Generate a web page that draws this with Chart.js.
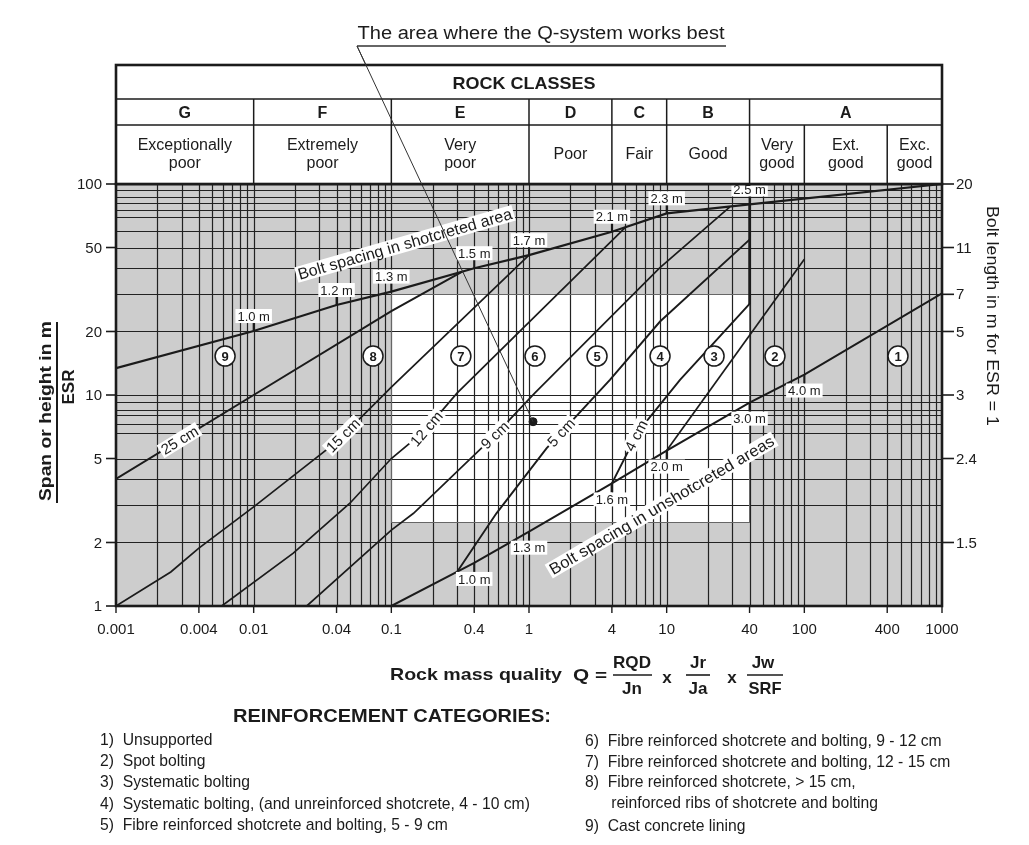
<!DOCTYPE html>
<html>
<head>
<meta charset="utf-8">
<title>Q-system support chart</title>
<script src="https://cdn.jsdelivr.net/npm/chart.js@4/dist/chart.umd.min.js"></script>
<style>
  html, body { margin: 0; padding: 0; background: #ffffff; }
  #wrap { width: 1029px; height: 845px; position: relative; }
  canvas { display: block; }
</style>
</head>
<body>
<div id="wrap"><canvas id="qchart" width="1029" height="845"></canvas></div>
<script>
// ---- axis ticks -------------------------------------------------------
const qTicks = [0.001, 0.004, 0.01, 0.04, 0.1, 0.4, 1, 4, 10, 40, 100, 400, 1000];
const qTickLabels = ['0.001', '0.004', '0.01', '0.04', '0.1', '0.4', '1', '4', '10', '40', '100', '400', '1000'];
const spanTicks = [1, 2, 5, 10, 20, 50, 100];
const boltLengthAt = [100, 50, 30, 20, 10, 5, 2];
const boltLengthLabels = ['20', '11', '7', '5', '3', '2.4', '1.5'];
const spanGrid = [2, 3, 4, 5, 6.6, 7.3, 8, 8.5, 9.3, 10, 20, 30, 40, 50, 60, 70, 75, 81, 87, 94];

// ---- rock classes header ---------------------------------------------
const classEdges = [0.001, 0.01, 0.1, 1, 4, 10, 40, 1000];
const classLetters = ['G', 'F', 'E', 'D', 'C', 'B', 'A'];
const qualityEdges = [0.001, 0.01, 0.1, 1, 4, 10, 40, 100, 400, 1000];
const qualityNames = [['Exceptionally', 'poor'], ['Extremely', 'poor'], ['Very', 'poor'], ['Poor'], ['Fair'],
  ['Good'], ['Very', 'good'], ['Ext.', 'good'], ['Exc.', 'good']];

// ---- bolt spacing lines (Q, span/ESR) --------------------------------
const shotcretedBolt = [[0.001, 13.4], [0.01, 20.1], [0.04, 26.7], [0.1, 30.9], [0.4, 39.9], [1, 46], [4, 59.4], [10, 72.6], [40, 80], [1000, 100]];
const shotcretedSpacingQ = [0.01, 0.04, 0.1, 0.4, 1, 4, 10, 40];
const shotcretedSpacingLabels = ['1.0 m', '1.2 m', '1.3 m', '1.5 m', '1.7 m', '2.1 m', '2.3 m', '2.5 m'];
const unshotcretedBolt = [[0.1, 1], [0.4, 1.6], [1, 2.25], [4, 3.81], [10, 5.45], [40, 9.2], [100, 12.5], [1000, 30.3]];
const unshotcretedSpacingQ = [0.4, 1, 4, 10, 40, 100];
const unshotcretedSpacingLabels = ['1.0 m', '1.3 m', '1.6 m', '2.0 m', '3.0 m', '4.0 m'];

// ---- reinforcement category boundaries --------------------------------
const line25 = [[0.001, 4], [0.01, 10], [0.1, 25], [0.33, 38.5]];
const line15 = [[0.001, 1], [0.0025, 1.45], [0.004, 1.88], [0.01, 2.95], [0.04, 6.0], [0.1, 10.9], [1, 46]];
const line12 = [[0.00586, 1], [0.0194, 1.78], [0.05, 3.07], [0.1, 5.0], [0.176, 6.8], [0.3, 10.2], [5.1, 63]];
const line9 = [[0.0243, 1], [0.1, 2.29], [0.145, 2.75], [0.566, 6.46], [1.1, 10.2], [8.9, 40], [28.8, 78]];
const line5 = [[0.3, 1.45], [0.58, 2.75], [1.34, 5.59], [3.87, 11.8], [8.95, 22.3], [40, 54.5]];
const line4 = [[4, 3.81], [6.2, 6.7], [12.5, 11.8], [40, 27]];
const line23 = [[10, 5.45], [100, 44]];
const limitQ40 = [[40, 27], [40, 80]];
const shotcreteLabels = ['25 cm', '15 cm', '12 cm', '9 cm', '5 cm', '4 cm'];
const shotcreteLabelQ = [0.0029, 0.0446, 0.18, 0.566, 1.71, 6.0];

// ---- category markers --------------------------------------------------
const categoryQ = [0.0062, 0.0736, 0.32, 1.105, 3.12, 8.95, 22.1, 61.2, 479];
const categorySpan = [15.3, 15.3, 15.3, 15.3, 15.3, 15.3, 15.3, 15.3, 15.3];
const categoryNumbers = ['9', '8', '7', '6', '5', '4', '3', '2', '1'];
const bestArea = [1.07, 7.47];
const bestZone = { qMin: 0.1, qMax: 40, sMin: 2.5, sMax: 30 };

const legendLeft = ['1)  Unsupported', '2)  Spot bolting', '3)  Systematic bolting',
  '4)  Systematic bolting, (and unreinforced shotcrete, 4 - 10 cm)', '5)  Fibre reinforced shotcrete and bolting, 5 - 9 cm'];
const legendRight = ['6)  Fibre reinforced shotcrete and bolting, 9 - 12 cm', '7)  Fibre reinforced shotcrete and bolting, 12 - 15 cm',
  '8)  Fibre reinforced shotcrete, > 15 cm,', '      reinforced ribs of shotcrete and bolting', '9)  Cast concrete lining'];

const FONT = '"Liberation Sans", Arial, Helvetica, sans-serif';
const INK = '#1b1b1b';
const pts = arr => arr.map(([x, y]) => ({ x, y }));

function line(data, width) {
  return { data: pts(data), showLine: true, borderColor: INK, borderWidth: width, pointRadius: 0, fill: false, tension: 0 };
}

function sOn(arr, q) {
  const l = Math.log10(q);
  for (let i = 0; i < arr.length - 1; i++) {
    const a = Math.log10(arr[i][0]), b = Math.log10(arr[i + 1][0]);
    if (l >= a - 1e-9 && l <= b + 1e-9) {
      const t = (l - a) / (b - a);
      const sa = Math.log10(arr[i][1]), sb = Math.log10(arr[i + 1][1]);
      return Math.pow(10, sa + t * (sb - sa));
    }
  }
  return arr[arr.length - 1][1];
}
function segOn(arr, q) {
  const l = Math.log10(q);
  for (let i = 0; i < arr.length - 1; i++) {
    if (l >= Math.log10(arr[i][0]) - 1e-9 && l <= Math.log10(arr[i + 1][0]) + 1e-9) return [arr[i], arr[i + 1]];
  }
  return [arr[arr.length - 2], arr[arr.length - 1]];
}

function text(ctx, str, x, y, o) {
  o = o || {};
  ctx.save();
  ctx.font = o.font || ('15px ' + FONT);
  ctx.textBaseline = 'middle';
  ctx.textAlign = 'left';
  ctx.translate(x, y);
  if (o.rotate) ctx.rotate(o.rotate);
  const w0 = ctx.measureText(str).width;
  const sx = o.width ? o.width / w0 : 1;
  ctx.scale(sx, 1);
  const align = o.align || 'center';
  const ox = align === 'center' ? -w0 / 2 : (align === 'right' ? -w0 : 0);
  if (o.bg) {
    const pad = o.pad == null ? 2 : o.pad, h = o.bgH || 15;
    ctx.fillStyle = o.bg;
    ctx.fillRect(ox - pad, -h / 2, w0 + 2 * pad, h);
  }
  ctx.fillStyle = o.color || INK;
  ctx.fillText(str, ox, 1);
  ctx.restore();
}
function seg(ctx, x0, y0, x1, y1, w, c) {
  ctx.save();
  ctx.strokeStyle = c || INK; ctx.lineWidth = w || 1;
  ctx.beginPath(); ctx.moveTo(x0, y0); ctx.lineTo(x1, y1); ctx.stroke();
  ctx.restore();
}

// background: grey field, white best-use zone, log grid
const backdrop = {
  id: 'backdrop',
  beforeDatasetsDraw(chart) {
    const { ctx, chartArea: a, scales: { x: X, y: Y } } = chart;
    ctx.save();
    ctx.fillStyle = '#cdcdcd';
    ctx.fillRect(a.left, a.top, a.right - a.left, a.bottom - a.top);
    const zx0 = X.getPixelForValue(bestZone.qMin), zx1 = X.getPixelForValue(bestZone.qMax);
    const zy0 = Y.getPixelForValue(bestZone.sMax), zy1 = Y.getPixelForValue(bestZone.sMin);
    ctx.fillStyle = '#ffffff';
    ctx.fillRect(zx0, zy0, zx1 - zx0, zy1 - zy0);
    ctx.strokeStyle = '#222';
    ctx.lineWidth = 1.2;
    ctx.beginPath();
    for (let d = -3; d < 3; d++) {
      for (let k = 1; k <= 9; k++) {
        const q = k * Math.pow(10, d);
        if (q <= 0.001 || q >= 1000) continue;
        const x = Math.round(X.getPixelForValue(q)) + 0.5;
        ctx.moveTo(x, a.top); ctx.lineTo(x, a.bottom);
      }
    }
    spanGrid.forEach(s => {
      const y = Math.round(Y.getPixelForValue(s)) + 0.5;
      ctx.moveTo(a.left, y); ctx.lineTo(a.right, y);
    });
    ctx.stroke();
    ctx.strokeStyle = '#666';
    ctx.lineWidth = 1;
    ctx.strokeRect(Math.round(zx0) + 0.5, Math.round(zy0) + 0.5, Math.round(zx1 - zx0), Math.round(zy1 - zy0));
    ctx.restore();
  }
};

// labels, header table, axes and texts
const overlay = {
  id: 'overlay',
  afterDatasetsDraw(chart) {
    const { ctx, chartArea: a, scales: { x: X, y: Y } } = chart;
    const px = q => X.getPixelForValue(q), py = s => Y.getPixelForValue(s);

    // bolt spacing ticks and values
    shotcretedSpacingQ.forEach((q, i) => {
      const x = px(q), y = py(sOn(shotcretedBolt, q));
      seg(ctx, x, y, x, y - 9, 2);
      text(ctx, shotcretedSpacingLabels[i], x, y - 15, { font: '13px ' + FONT, bg: '#fff', bgH: 14 });
    });
    unshotcretedSpacingQ.forEach((q, i) => {
      const x = px(q), y = py(sOn(unshotcretedBolt, q));
      seg(ctx, x, y, x, y + 9, q === 4 ? 2.6 : 2);
      text(ctx, unshotcretedSpacingLabels[i], x, y + 16, { font: '13px ' + FONT, bg: '#fff', bgH: 14 });
    });

    // shotcrete thickness on the category boundaries
    [line25, line15, line12, line9, line5, line4].forEach((ln, i) => {
      const q = shotcreteLabelQ[i];
      const [p0, p1] = segOn(ln, q);
      const ang = Math.atan2(py(p1[1]) - py(p0[1]), px(p1[0]) - px(p0[0]));
      text(ctx, shotcreteLabels[i], px(q), py(sOn(ln, q)), { font: '15px ' + FONT, rotate: ang, bg: '#fff', bgH: 15 });
    });

    text(ctx, 'Bolt spacing in shotcreted area', px(0.1256), py(52), { font: '16px ' + FONT, rotate: -16 * Math.PI / 180, bg: '#fff', bgH: 16, width: 222 });
    text(ctx, 'Bolt spacing in unshotcreted areas', px(9.2), py(3.01), { font: '16px ' + FONT, rotate: -30.5 * Math.PI / 180, bg: '#fff', bgH: 16, width: 258 });

    // category numbers inside the circles
    categoryQ.forEach((q, i) => {
      text(ctx, categoryNumbers[i], px(q), py(categorySpan[i]), { font: 'bold 13px ' + FONT });
    });

    // pointer to the best-use zone
    const dx = px(bestArea[0]), dy = py(bestArea[1]);
    seg(ctx, 357, 46, dx, dy, 1, '#333');
    seg(ctx, 357, 46, 726, 46, 1.4, '#333');
    text(ctx, 'The area where the Q-system works best', 541, 33, { font: '18px ' + FONT, width: 367 });

    // plot frame
    ctx.save();
    ctx.strokeStyle = INK; ctx.lineWidth = 2.6;
    ctx.strokeRect(a.left, a.top, a.right - a.left, a.bottom - a.top);
    ctx.restore();

    // rock classes header
    const hTop = 65, r1 = 99, r2 = 125, hBot = a.top;
    ctx.save();
    ctx.fillStyle = '#fff';
    ctx.fillRect(a.left, hTop, a.right - a.left, hBot - hTop);
    ctx.restore();
    seg(ctx, a.left, r1, a.right, r1, 1.5);
    seg(ctx, a.left, r2, a.right, r2, 1.5);
    classEdges.slice(1, -1).forEach(q => seg(ctx, px(q), r1, px(q), hBot, 1.5));
    [100, 400].forEach(q => seg(ctx, px(q), r2, px(q), hBot, 1.5));
    ctx.save();
    ctx.strokeStyle = INK; ctx.lineWidth = 2.6;
    ctx.strokeRect(a.left, hTop, a.right - a.left, hBot - hTop);
    ctx.restore();
    seg(ctx, 357, 46, px(bestArea[0]) - (px(bestArea[0]) - 357) * (1 - (hBot - 46) / (dy - 46)), hBot, 1, '#333');
    text(ctx, 'ROCK CLASSES', 524, 83, { font: 'bold 17px ' + FONT, width: 143 });
    classLetters.forEach((c, i) => {
      text(ctx, c, (px(classEdges[i]) + px(classEdges[i + 1])) / 2, 113, { font: 'bold 16px ' + FONT });
    });
    qualityNames.forEach((nm, i) => {
      const cx = (px(qualityEdges[i]) + px(qualityEdges[i + 1])) / 2;
      if (nm.length === 2) {
        text(ctx, nm[0], cx, 145, { font: '16px ' + FONT });
        text(ctx, nm[1], cx, 163, { font: '16px ' + FONT });
      } else {
        text(ctx, nm[0], cx, 154, { font: '16px ' + FONT });
      }
    });

    // axes
    spanTicks.forEach(s => {
      const y = py(s);
      seg(ctx, a.left - 10, y, a.left, y, 1.6);
      text(ctx, String(s), a.left - 14, y, { font: '15px ' + FONT, align: 'right' });
    });
    boltLengthAt.forEach((s, i) => {
      const y = py(s);
      seg(ctx, a.right, y, a.right + 12, y, 1.6);
      text(ctx, boltLengthLabels[i], a.right + 14, y, { font: '15px ' + FONT, align: 'left' });
    });
    qTicks.forEach((q, i) => {
      const x = px(q);
      seg(ctx, x, a.bottom, x, a.bottom + 7, 1.4);
      text(ctx, qTickLabels[i], x, a.bottom + 23, { font: '15px ' + FONT });
    });

    // axis titles
    text(ctx, 'Span or height in m', 45, 411, { font: 'bold 17px ' + FONT, rotate: -Math.PI / 2, width: 180 });
    seg(ctx, 57, 322, 57, 503, 2);
    text(ctx, 'ESR', 68, 387, { font: 'bold 17px ' + FONT, rotate: -Math.PI / 2 });
    text(ctx, 'Bolt length in m for ESR = 1', 992, 316, { font: '16px ' + FONT, rotate: Math.PI / 2, width: 220 });

    const bf = 'bold 17px ' + FONT;
    text(ctx, 'Rock mass quality', 390, 674, { font: bf, align: 'left', width: 172 });
    text(ctx, 'Q =', 573, 675, { font: bf, align: 'left', width: 34 });
    text(ctx, 'RQD', 632, 662, { font: bf, width: 38 });
    text(ctx, 'Jn', 632, 688, { font: bf });
    seg(ctx, 613, 675, 652, 675, 1.6);
    text(ctx, 'x', 667, 677, { font: bf });
    text(ctx, 'Jr', 698, 662, { font: bf });
    text(ctx, 'Ja', 698, 688, { font: bf });
    seg(ctx, 686, 675, 710, 675, 1.6);
    text(ctx, 'x', 732, 677, { font: bf });
    text(ctx, 'Jw', 763, 662, { font: bf });
    text(ctx, 'SRF', 765, 688, { font: bf, width: 33 });
    seg(ctx, 747, 675, 783, 675, 1.6);

    text(ctx, 'REINFORCEMENT CATEGORIES:', 233, 716, { font: 'bold 18px ' + FONT, align: 'left', width: 318 });
    const lf = '15.7px ' + FONT;
    const ly = [740, 761, 782, 804, 825];
    legendLeft.forEach((t, i) => text(ctx, t, 100, ly[i], { font: lf, align: 'left' }));
    const ry = [741, 762, 782, 803, 826];
    legendRight.forEach((t, i) => text(ctx, t, 585, ry[i], { font: lf, align: 'left' }));
  }
};

new Chart(document.getElementById('qchart'), {
  type: 'scatter',
  data: {
    datasets: [
      { data: categoryQ.map((q, i) => ({ x: q, y: categorySpan[i] })), showLine: false, pointRadius: 10,
        pointBackgroundColor: '#ffffff', pointBorderColor: INK, pointBorderWidth: 1.5 },
      { data: pts([bestArea]), showLine: false, pointRadius: 4, pointBackgroundColor: INK, pointBorderColor: INK },
      line(shotcretedBolt, 2.2),
      line(unshotcretedBolt, 2.0),
      line(line25, 2.0),
      line(line15, 1.7),
      line(line12, 1.7),
      line(line9, 1.7),
      line(line5, 1.9),
      line(line4, 1.9),
      line(line23, 1.7),
      line(limitQ40, 2.6)
    ]
  },
  options: {
    responsive: false,
    animation: false,
    devicePixelRatio: 1,
    layout: { padding: { left: 116, right: 87, top: 184, bottom: 239 } },
    plugins: { legend: { display: false }, tooltip: { enabled: false } },
    scales: {
      x: { type: 'logarithmic', min: 0.001, max: 1000, display: false },
      y: { type: 'logarithmic', min: 1, max: 100, display: false }
    }
  },
  plugins: [backdrop, overlay]
});
</script>
</body>
</html>
